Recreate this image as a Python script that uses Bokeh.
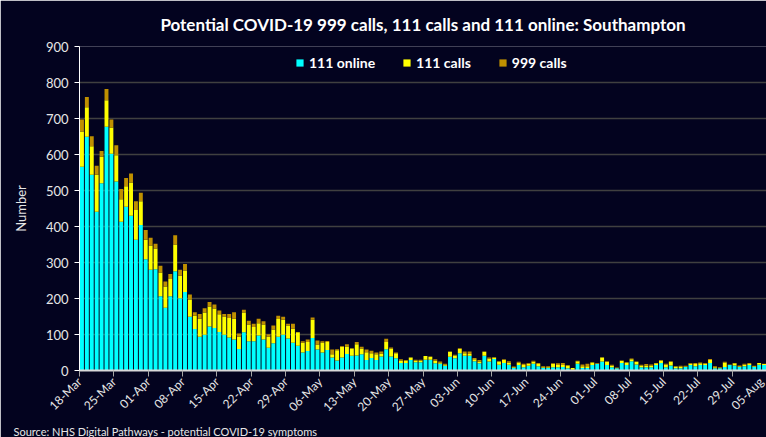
import math
from bokeh.plotting import figure
from bokeh.models import FixedTicker, Legend, LegendItem, Title, ColumnDataSource
from bokeh.embed import file_html
from bokeh.resources import INLINE

# ---- data ----
tick_labels = ["18-Mar", "25-Mar", "01-Apr", "08-Apr", "15-Apr", "22-Apr", "29-Apr",
               "06-May", "13-May", "20-May", "27-May", "03-Jun", "10-Jun", "17-Jun",
               "24-Jun", "01-Jul", "08-Jul", "15-Jul", "22-Jul", "29-Jul", "05-Aug"]

online_111 = [566, 649, 544, 441, 520, 677, 602, 525, 413, 455, 430, 363, 404, 309, 280,
              281, 206, 174, 206, 276, 201, 218, 149, 115, 94, 99, 122, 118, 107, 99,
              92, 86, 60, 106, 81, 81, 97, 86, 63, 76, 94, 99, 89, 77, 69,
              50, 54, 90, 58, 50, 57, 36, 28, 36, 46, 41, 42, 45, 29, 35,
              29, 39, 59, 39, 34, 21, 21, 29, 23, 23, 30, 30, 20, 19, 13,
              38, 34, 48, 41, 41, 26, 20, 41, 25, 32, 16, 21, 16, 7, 15,
              9, 13, 19, 12, 7, 7, 9, 9, 10, 6, 2, 19, 7, 7, 15,
              19, 25, 15, 9, 6, 21, 15, 26, 17, 9, 9, 9, 15, 21, 9,
              14, 6, 6, 10, 15, 12, 15, 15, 21, 6, 6, 10, 15, 14, 10,
              12, 15, 10, 16, 15]

calls_111 = [98, 82, 79, 103, 74, 74, 73, 73, 63, 57, 92, 83, 66, 54, 67,
             58, 66, 59, 48, 74, 62, 60, 48, 37, 50, 62, 56, 54, 49, 51,
             54, 58, 34, 55, 47, 40, 34, 42, 31, 38, 49, 42, 36, 39, 37,
             27, 25, 51, 14, 28, 22, 9, 28, 30, 21, 20, 31, 16, 22, 13,
             16, 8, 20, 22, 14, 7, 7, 7, 5, 5, 10, 8, 7, 3, 4,
             14, 8, 12, 7, 5, 5, 5, 11, 8, 4, 9, 9, 6, 2, 7,
             6, 6, 5, 6, 2, 2, 9, 6, 5, 8, 5, 7, 5, 5, 7,
             0, 11, 9, 4, 1, 6, 7, 5, 7, 5, 5, 5, 5, 7, 8,
             10, 5, 5, 1, 4, 6, 5, 4, 8, 3, 1, 12, 0, 6, 2,
             4, 3, 2, 5, 3]

calls_999 = [33, 29, 28, 25, 16, 31, 22, 28, 28, 23, 25, 24, 24, 27, 22,
             13, 19, 14, 14, 26, 17, 18, 14, 10, 13, 12, 12, 11, 11, 7,
             11, 18, 9, 8, 10, 9, 13, 9, 7, 11, 9, 8, 5, 14, 1,
             4, 7, 6, 11, 3, 3, 13, 3, 2, 6, 1, 6, 5, 7, 7,
             5, 6, 9, 3, 2, 3, 1, 0, 2, 2, 0, 1, 4, 3, 2,
             1, 2, 2, 5, 7, 4, 4, 1, 3, 1, 1, 1, 4, 2, 2,
             4, 2, 3, 3, 3, 3, 2, 5, 6, 1, 0, 1, 5, 7, 1,
             2, 1, 2, 3, 1, 1, 1, 2, 1, 2, 4, 3, 1, 1, 2,
             2, 1, 2, 2, 2, 3, 2, 2, 3, 3, 2, 2, 2, 1, 2,
             3, 3, 1, 0, 1]

series = ["111 online", "111 calls", "999 calls"]
colors = ["#00FFFF", "#FFFF00", "#BF9000"]

# ---- styling ----
BG = "#03031F"
TXT = "#E6E6E6"
FONT = "Lato"

n = len(online_111)
src = ColumnDataSource(dict(
    x=[i + 0.5 for i in range(n)],
    online=online_111, c111=calls_111, c999=calls_999,
))

p = figure(width=766, height=437, x_range=(0, n), y_range=(0, 900),
           output_backend="svg", toolbar_location=None,
           background_fill_color=BG, border_fill_color=BG,
           min_border_left=79, min_border_right=0, min_border_top=45,
           min_border_bottom=66, outline_line_color=None)

rs = p.vbar_stack(["online", "c111", "c999"], x="x", width=0.8, source=src,
                  color=colors, line_color=None)

# title
p.title.text = "Potential COVID-19 999 calls, 111 calls and 111 online: Southampton"
p.title.align = "center"
p.title.offset = 4
p.title.text_color = "#FFFFFF"
p.title.text_font = FONT
p.title.text_font_size = "17px"
p.title.text_font_style = "bold"
p.title.standoff = 23

# x axis (added before the source note so it sits next to the frame)
xt = list(range(0, n + 1, 7))
p.xaxis.ticker = FixedTicker(ticks=xt)
p.xaxis.major_label_overrides = {t: lab for t, lab in zip(xt, tick_labels)}
p.xaxis.major_label_orientation = math.pi / 4
p.xaxis.major_label_text_font = FONT
p.xaxis.major_label_text_font_size = "12px"
p.xaxis.major_label_text_color = TXT
p.xaxis.axis_line_color = "#D9D9D9"
p.xaxis.axis_line_width = 2
p.xaxis.major_tick_line_color = "#A6A6A6"
p.xaxis.major_tick_out = 6
p.xaxis.major_tick_in = 0
p.xaxis.minor_tick_line_color = None
p.xaxis.major_label_standoff = 3

# source note
src_title = Title(text="Source: NHS Digital Pathways - potential COVID-19 symptoms",
                  align="left", offset=-66, standoff=0, text_font=FONT,
                  text_font_size="11px", text_font_style="normal", text_color=TXT)
p.add_layout(src_title, "below")

# grid
p.xgrid.grid_line_color = None
p.ygrid.grid_line_color = "#404040"
p.ygrid.grid_line_width = 1.5
p.ygrid.ticker = FixedTicker(ticks=list(range(0, 901, 100)))

# y axis
p.yaxis.ticker = FixedTicker(ticks=list(range(0, 901, 100)))
p.yaxis.axis_label = "Number"
p.yaxis.axis_label_text_font = FONT
p.yaxis.axis_label_text_font_size = "13px"
p.yaxis.axis_label_text_font_style = "normal"
p.yaxis.axis_label_text_color = TXT
p.yaxis.axis_label_standoff = 14
p.yaxis.major_label_text_font = FONT
p.yaxis.major_label_text_font_size = "13px"
p.yaxis.major_label_text_color = TXT
p.yaxis.axis_line_color = "#FFFFFF"
p.yaxis.major_tick_line_color = "#FFFFFF"
p.yaxis.major_tick_out = 5
p.yaxis.major_tick_in = 0
p.yaxis.minor_tick_line_color = None
p.yaxis.major_label_standoff = 6

# legend
legend = Legend(items=[LegendItem(label=s, renderers=[r]) for s, r in zip(series, rs)],
                orientation="horizontal", location=(216, 299),
                background_fill_alpha=0, border_line_alpha=0,
                padding=0, margin=0, spacing=27,
                glyph_width=9, glyph_height=9, label_standoff=5,
                label_text_font=FONT, label_text_font_size="14px",
                label_text_font_style="bold", label_text_color="#FFFFFF",
                label_height=14)
p.add_layout(legend, "center")

open("out.html", "w").write(file_html(p, INLINE))
